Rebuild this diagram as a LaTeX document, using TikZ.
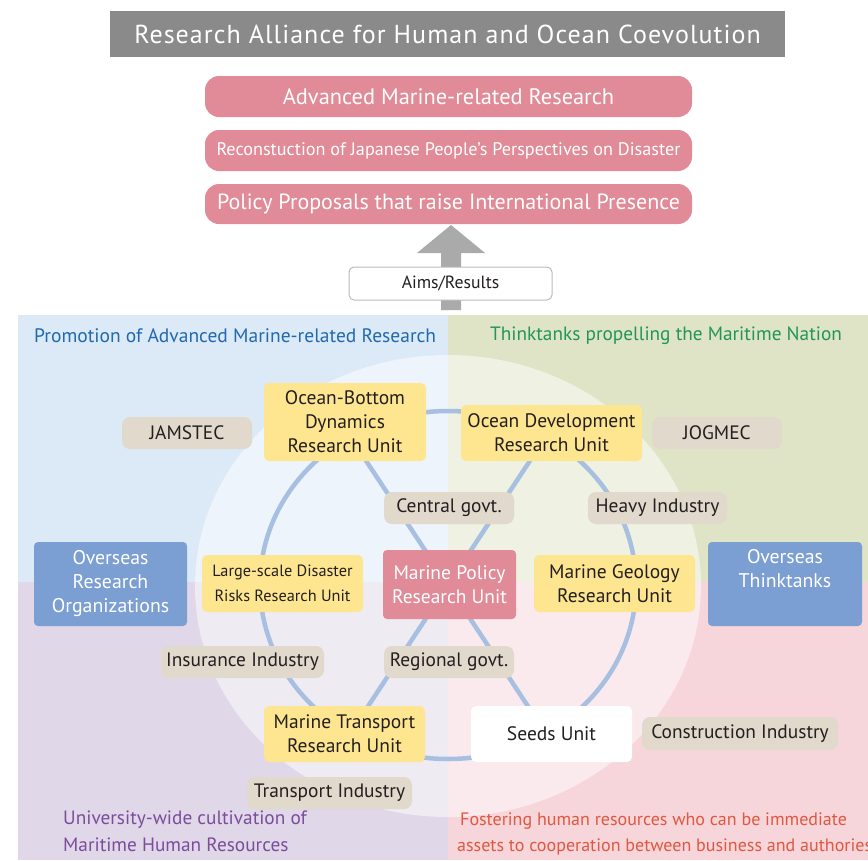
\documentclass[tikz,border=0pt]{standalone}
\usepackage{fontspec}
\setmainfont{PT Sans}
\definecolor{titlegray}{HTML}{8A8A8A}
\definecolor{pinkbox}{HTML}{E08B97}
\definecolor{arrowgray}{HTML}{AAAAAA}
\definecolor{qtl}{HTML}{DCEAF7}
\definecolor{qtr}{HTML}{DFE4C6}
\definecolor{qbl}{HTML}{E0D7E8}
\definecolor{qbr}{HTML}{F6D5DB}
\definecolor{beige}{HTML}{E0D9CC}
\definecolor{yellowbox}{HTML}{FEE690}
\definecolor{bluebox}{HTML}{7B9ED3}
\definecolor{ringblue}{HTML}{A7BFE0}
\definecolor{txtblue}{HTML}{2069B0}
\definecolor{txtgreen}{HTML}{21955A}
\definecolor{txtpurple}{HTML}{7B4D9B}
\definecolor{txtred}{HTML}{E0583F}
\definecolor{txtdark}{HTML}{231F20}
\newcommand\myfs[2]{\fontsize{#1}{#2}\selectfont}
\begin{document}
\begin{tikzpicture}[x=1pt,y=-1pt,
  base/.style={inner sep=0pt, align=center, text=txtdark, font=\myfs{19.5}{24}},
  unitbox/.style={base, fill=yellowbox, rounded corners=5pt},
  tagbox/.style={base, fill=beige, rounded corners=8pt, font=\myfs{19.4}{24}},
  extbox/.style={base, fill=bluebox, text=white, rounded corners=4pt, font=\myfs{19.8}{24}},
  policybox/.style={base, fill=pinkbox, text=white, rounded corners=4pt, font=\myfs{19.5}{24}},
  aimbox/.style={base, fill=pinkbox, text=white, rounded corners=14pt, minimum width=487, font=\myfs{22.4}{26}},
  ringline/.style={draw=ringblue, line width=4.5pt},
  areatitle/.style={inner sep=0pt, anchor=west, font=\myfs{19.5}{24}},
  areanote/.style={inner sep=0pt, anchor=north west, align=left}
]
\useasboundingbox (0,0) rectangle (868,860);

% title
\node[base, fill=titlegray, text=white, minimum width=675, minimum height=46,
  font=\myfs{26}{30}\addfontfeature{LetterSpace=4}] (title) at (447.5,34)
  {Research Alliance for Human and Ocean Coevolution};

% aims
\node[aimbox, minimum height=41] (aim1) at (448.5,96.5) {Advanced Marine-related Research};
\node[aimbox, minimum height=41, font=\myfs{18.2}{22}] (aim2) at (448.5,150.5) {Reconstuction of Japanese People’s Perspectives on Disaster};
\node[aimbox, minimum height=40, font=\myfs{22}{26}] (aim3) at (448.5,204) {Policy Proposals that raise International Presence};

% arrow
\fill[arrowgray] (441,310) -- (441,253) -- (417,253) -- (451,225) -- (485,253) -- (461,253) -- (461,310) -- cycle;
\node[base, fill=white, draw=arrowgray!80, line width=1pt, rounded corners=5pt,
  minimum width=203, minimum height=33, font=\myfs{17.7}{22}] (aims) at (450.5,283.5) {Aims/Results};

% quadrants
\fill[qtl] (18,315) rectangle (448,582);
\fill[qtr] (448,315) rectangle (868,582);
\fill[qbl] (18,582) rectangle (448,860);
\fill[qbr] (448,582) rectangle (868,860);
\fill[white, opacity=0.5] (448,586) ellipse [x radius=253, y radius=231];

% ring
\draw[ringline] (448,585) ellipse [x radius=188, y radius=174];
\coordinate (d1a) at (350,436.4);
\coordinate (d1b) at (546,733.6);
\coordinate (d2a) at (546,436.4);
\coordinate (d2b) at (350,733.6);
\draw[ringline] (d1a) -- (d1b);
\draw[ringline] (d2a) -- (d2b);

% area titles
\node[areatitle, text=txtblue] (promo) at (34,336) {Promotion of Advanced Marine-related Research};
\node[areatitle, text=txtgreen, font=\myfs{19.3}{24}] (think) at (490,336) {Thinktanks propelling the Maritime Nation};
\node[areanote, text=txtpurple, font=\myfs{19.3}{27}] (univ) at (63,811) {University-wide cultivation of\\Maritime Human Resources};
\node[areanote, text=txtred, font=\myfs{18}{26}] (foster) at (460,813) {Fostering human resources who can be immediate\\\hspace*{-3pt}assets to cooperation between business and authories};

% units
\node[unitbox, minimum width=162, minimum height=78] (ob) at (345,422) {Ocean-Bottom\\Dynamics\\Research Unit};
\node[unitbox, minimum width=181, minimum height=56] (od) at (551.5,433) {Ocean Development\\Research Unit};
\node[unitbox, minimum width=161, minimum height=57, font=\myfs{16.3}{25}] (ls) at (282.5,583.5) {Large-scale Disaster\\Risks Research Unit};
\node[policybox, minimum width=133, minimum height=69] (mp) at (449.5,584.5) {Marine Policy\\Research Unit};
\node[unitbox, minimum width=161, minimum height=57] (mg) at (614.5,583.5) {Marine Geology\\Research Unit};
\node[unitbox, minimum width=161, minimum height=56] (mt) at (344.5,734) {Marine Transport\\Research Unit};
\node[base, fill=white, rounded corners=5pt, minimum width=161, minimum height=56] (seeds) at (551.5,734) {Seeds Unit};

% tags
\node[tagbox, minimum width=130, minimum height=32] (jamstec) at (187,433) {JAMSTEC};
\node[tagbox, minimum width=130, minimum height=32] (jogmec) at (717,433) {JOGMEC};
\node[tagbox, minimum width=130, minimum height=32] (central) at (449,508) {Central govt.};
\node[tagbox, minimum width=139, minimum height=32] (heavy) at (657.5,508) {Heavy Industry};
\node[tagbox, minimum width=163, minimum height=32] (insur) at (242.5,662) {Insurance Industry};
\node[tagbox, minimum width=130, minimum height=32] (regional) at (449,662) {Regional govt.};
\node[tagbox, minimum width=196, minimum height=33] (constr) at (740,733.5) {Construction Industry};
\node[tagbox, minimum width=165, minimum height=32] (transp) at (329.5,793) {Transport Industry};

% external
\node[extbox, minimum width=153, minimum height=84] (oro) at (110.5,584) {Overseas\\Research\\Organizations};
\node[extbox, minimum width=154, minimum height=84] (ot) at (785,584) {Overseas\\Thinktanks\\[8pt]};
\end{tikzpicture}
\end{document}
